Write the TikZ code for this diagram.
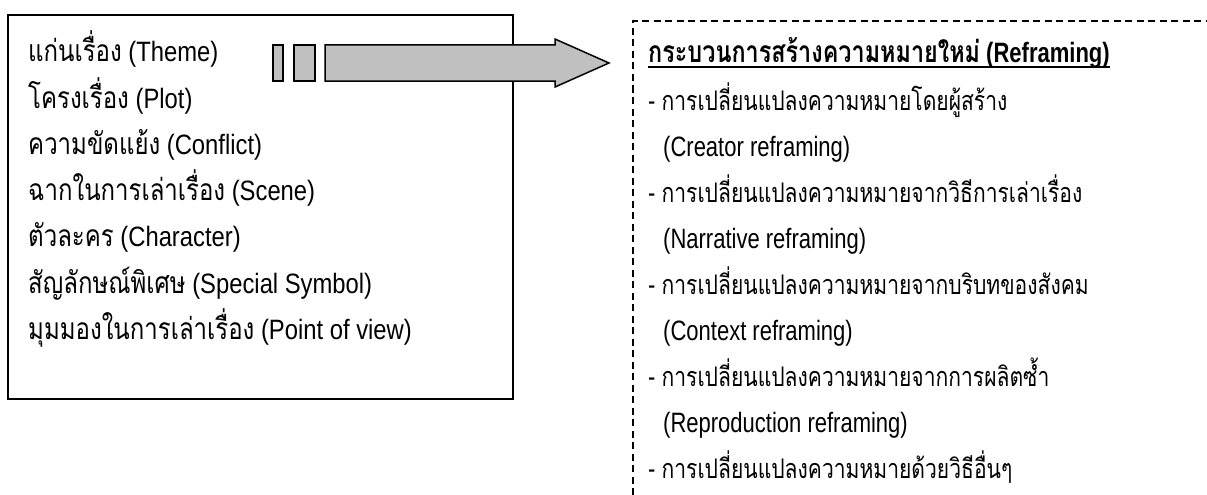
\documentclass[tikz,border=0pt]{standalone}
\usepackage{fontspec}
\setmainfont{Liberation Sans}[FakeStretch=0.85]
\newfontfamily\rlat{Liberation Sans}[FakeStretch=0.786]
\newfontfamily\lthai[Script=Thai,FakeStretch=0.8]{Loma}
\newfontfamily\rthai[Script=Thai,FakeStretch=0.78]{Loma}
\newcommand\LT[1]{{\lthai\fontsize{30}{30}\selectfont #1}}
\newcommand\RT[1]{{\rthai\fontsize{27}{27}\selectfont #1}}
\newcommand\TT[1]{{\rthai\fontsize{30}{30}\selectfont\bfseries #1}}
\definecolor{arrowgray}{HTML}{C0C0C0}
\begin{document}
\begin{tikzpicture}[x=1pt,y=-1pt,
  ltxt/.style={anchor=base west,inner sep=0pt,font=\fontsize{28}{28}\selectfont},
  rtxt/.style={anchor=base west,inner sep=0pt,font=\rlat\fontsize{28}{28}\selectfont},
  boxline/.style={draw=black,line width=2pt},
  arrowpart/.style={draw=black,fill=arrowgray,line width=1.5pt,line join=miter},
  dashline/.style={draw=black,line width=1.2pt,dash pattern=on 7pt off 4.5pt}]
\useasboundingbox (0,0) rectangle (1207,495);
% left box
\draw[boxline] (8,15) rectangle (513,399);
\node[ltxt] (l1) at (28,62) {\LT{แก่นเรื่อง} (Theme)};
\node[ltxt] (l2) at (28,108.2) {\LT{โครงเรื่อง} (Plot)};
\node[ltxt] (l3) at (28,154.4) {\LT{ความขัดแย้ง} (Conflict)};
\node[ltxt] (l4) at (28,200.6) {\LT{ฉากในการเล่าเรื่อง} (Scene)};
\node[ltxt] (l5) at (28,246.8) {\LT{ตัวละคร} (Character)};
\node[ltxt] (l6) at (28,293) {\LT{สัญลักษณ์พิเศษ} (Special Symbol)};
\node[ltxt] (l7) at (28,339.2) {\LT{มุมมองในการเล่าเรื่อง} (Point of view)};
% big arrow
\draw[arrowpart] (273,45) rectangle (283,81);
\draw[arrowpart] (294,45) rectangle (315,81);
\draw[arrowpart] (325,45) -- (555,45) -- (555,39) -- (609,63) -- (555,87) -- (555,81) -- (325,81) -- cycle;
% dashed frame
\draw[dashline] (633,495) -- (633,21) -- (1207,21);
\node[rtxt,font=\rlat\fontsize{28}{28}\selectfont\bfseries] (r0) at (648,63) {\TT{กระบวนการสร้างความหมายใหม่} (Reframing)};
\draw[line width=2pt] ([yshift=-4]r0.base west) -- ([yshift=-4]r0.base east);
\node[rtxt] (r1) at (648,110.1) {- \RT{การเปลี่ยนแปลงความหมายโดยผู้สร้าง}};
\node[rtxt] (r2) at (663,156.2) {(Creator reframing)};
\node[rtxt] (r3) at (648,202.3) {- \RT{การเปลี่ยนแปลงความหมายจากวิธีการเล่าเรื่อง}};
\node[rtxt] (r4) at (663,248.4) {(Narrative reframing)};
\node[rtxt] (r5) at (648,294.5) {- \RT{การเปลี่ยนแปลงความหมายจากบริบทของสังคม}};
\node[rtxt] (r6) at (663,340.6) {(Context reframing)};
\node[rtxt] (r7) at (648,386.7) {- \RT{การเปลี่ยนแปลงความหมายจากการผลิตซ้ำ}};
\node[rtxt] (r8) at (663,432.8) {(Reproduction reframing)};
\node[rtxt] (r9) at (648,478.9) {- \RT{การเปลี่ยนแปลงความหมายด้วยวิธีอื่นๆ}};
\end{tikzpicture}
\end{document}
